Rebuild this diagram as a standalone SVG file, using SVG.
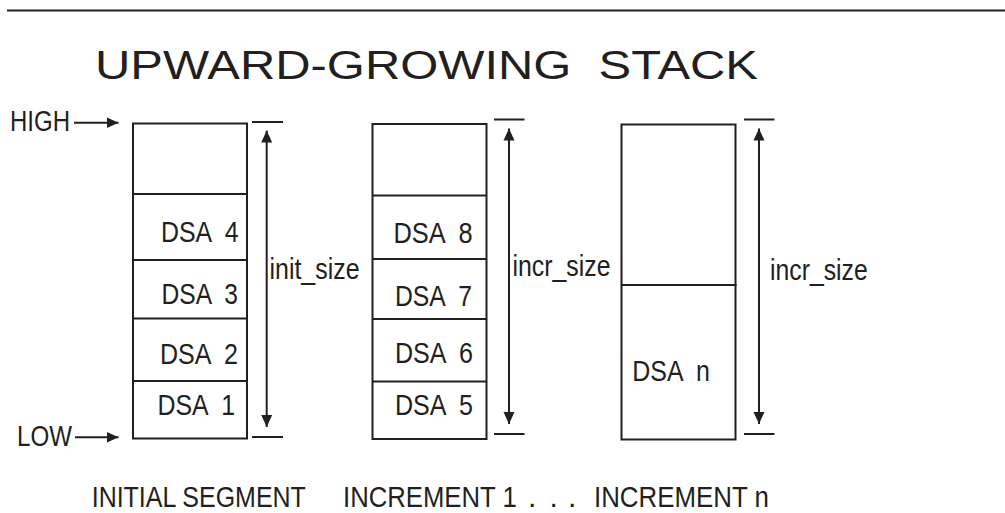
<svg xmlns="http://www.w3.org/2000/svg" width="1005" height="513" viewBox="0 0 1005 513">
<style>
.bx{fill:none;stroke:#231f20;stroke-width:2}
.ln{stroke:#231f20;stroke-width:2;fill:none}
.t{font-family:"Liberation Sans",Arial,sans-serif;font-size:29px;fill:#231f20;white-space:pre}
.c{font-size:30px}
.ti{font-family:"Liberation Sans",Arial,sans-serif;font-size:40px;fill:#231f20;white-space:pre}
</style>
<defs>
<marker id="ah" viewBox="0 0 12 12" refX="12" refY="6" markerWidth="12" markerHeight="12" markerUnits="userSpaceOnUse" orient="auto-start-reverse">
<path d="M0,0.5 L12,6 L0,11.5 z" fill="#231f20"/>
</marker>
</defs>
<rect width="1005" height="513" fill="#fff"/>
<line x1="7" y1="10.5" x2="1005" y2="10.5" class="ln"/>
<text class="ti" x="95" y="79" textLength="663" lengthAdjust="spacingAndGlyphs">UPWARD-GROWING  STACK</text>
<text class="t c" x="10" y="131" textLength="60" lengthAdjust="spacingAndGlyphs">HIGH</text>
<text class="t c" x="17" y="445.5" textLength="55" lengthAdjust="spacingAndGlyphs">LOW</text>

<g id="initial-segment">
<rect class="bx" x="133" y="123.5" width="114" height="315"/>
<line class="ln" x1="133" y1="194" x2="247" y2="194"/>
<line class="ln" x1="133" y1="260" x2="247" y2="260"/>
<line class="ln" x1="133" y1="318.5" x2="247" y2="318.5"/>
<line class="ln" x1="133" y1="381" x2="247" y2="381"/>
<text class="t" x="161" y="242" textLength="77.5" lengthAdjust="spacingAndGlyphs">DSA  4</text>
<text class="t" x="161.5" y="304" textLength="76.5" lengthAdjust="spacingAndGlyphs">DSA  3</text>
<text class="t" x="160" y="363.5" textLength="78" lengthAdjust="spacingAndGlyphs">DSA  2</text>
<text class="t" x="157.5" y="415" textLength="77.5" lengthAdjust="spacingAndGlyphs">DSA  1</text>
<line class="ln" x1="252" y1="122" x2="283" y2="122"/>
<line class="ln" x1="252" y1="437" x2="283" y2="437"/>
<text class="t" x="269.5" y="279" textLength="90" lengthAdjust="spacingAndGlyphs">init_size</text>
</g>

<g id="increment-1">
<rect class="bx" x="372.5" y="124" width="114" height="315"/>
<line class="ln" x1="372.5" y1="195.5" x2="486.5" y2="195.5"/>
<line class="ln" x1="372.5" y1="259" x2="486.5" y2="259"/>
<line class="ln" x1="372.5" y1="319" x2="486.5" y2="319"/>
<line class="ln" x1="372.5" y1="381.5" x2="486.5" y2="381.5"/>
<text class="t" x="393.5" y="242.5" textLength="79" lengthAdjust="spacingAndGlyphs">DSA  8</text>
<text class="t" x="395" y="305.5" textLength="77" lengthAdjust="spacingAndGlyphs">DSA  7</text>
<text class="t" x="395" y="363" textLength="78" lengthAdjust="spacingAndGlyphs">DSA  6</text>
<text class="t" x="395" y="415" textLength="78" lengthAdjust="spacingAndGlyphs">DSA  5</text>
<line class="ln" x1="494" y1="119.5" x2="524.5" y2="119.5"/>
<line class="ln" x1="494" y1="434" x2="524.5" y2="434"/>
<text class="t" x="512.5" y="276" textLength="98" lengthAdjust="spacingAndGlyphs">incr_size</text>
</g>

<g id="increment-n">
<rect class="bx" x="621.5" y="124.5" width="114" height="315"/>
<line class="ln" x1="621.5" y1="285" x2="736.5" y2="285"/>
<text class="t" x="632.3" y="380.5" textLength="77.7" lengthAdjust="spacingAndGlyphs">DSA  n</text>
<line class="ln" x1="744" y1="119.5" x2="774.5" y2="119.5"/>
<line class="ln" x1="744" y1="434" x2="774.5" y2="434"/>
<text class="t" x="770" y="280" textLength="97.7" lengthAdjust="spacingAndGlyphs">incr_size</text>
</g>

<g id="connectors">
<line class="ln" x1="74" y1="122.7" x2="118.5" y2="122.7" marker-end="url(#ah)"/>
<line class="ln" x1="75" y1="437.3" x2="118.5" y2="437.3" marker-end="url(#ah)"/>
<line class="ln" x1="266.7" y1="130.5" x2="266.7" y2="427" marker-start="url(#ah)" marker-end="url(#ah)"/>
<line class="ln" x1="509" y1="128.5" x2="509" y2="424" marker-start="url(#ah)" marker-end="url(#ah)"/>
<line class="ln" x1="759" y1="128.5" x2="759" y2="424" marker-start="url(#ah)" marker-end="url(#ah)"/>
</g>

<g id="captions">
<text class="t c" transform="translate(91.7,507) scale(0.833,1)" x="0" y="0">INITIAL SEGMENT</text>
<text class="t c" transform="translate(343,507) scale(0.857,1)" x="0" y="0">INCREMENT 1</text>
<text class="t c" x="528" y="507">.</text>
<text class="t c" x="549.5" y="507">.</text>
<text class="t c" x="568" y="507">.</text>
<text class="t c" transform="translate(594,507) scale(0.862,1)" x="0" y="0">INCREMENT n</text>
</g>
</svg>
